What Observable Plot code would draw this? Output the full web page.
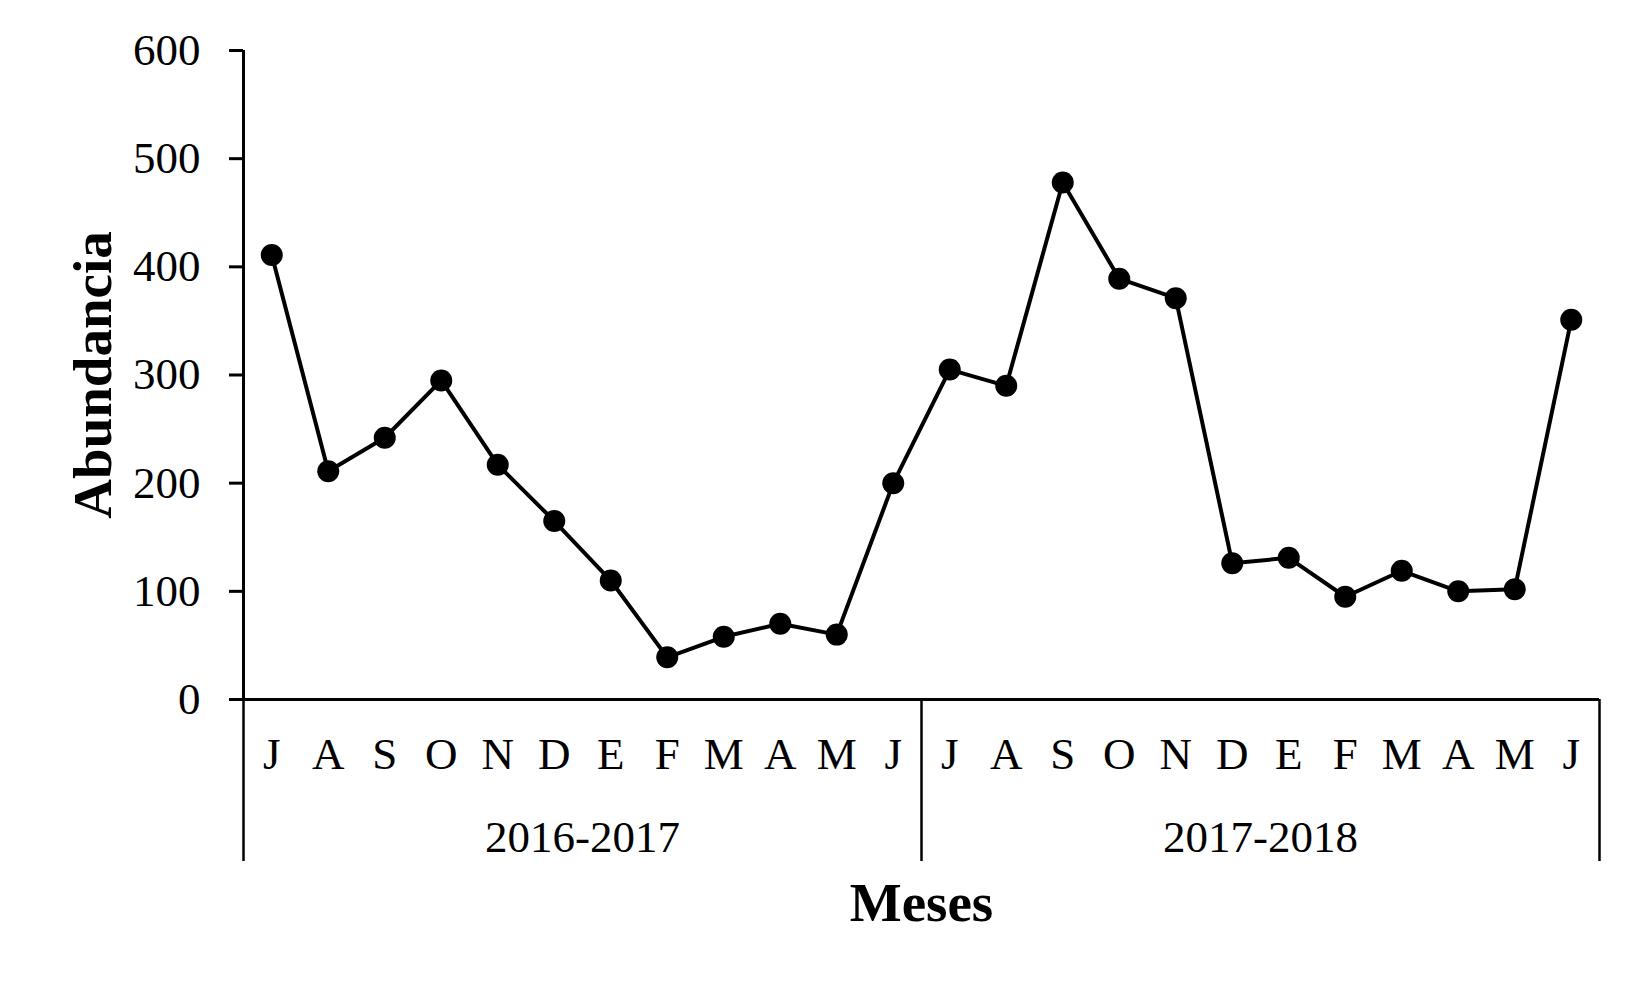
<!DOCTYPE html>
<html><head><meta charset="utf-8">
<script src="https://cdn.jsdelivr.net/npm/d3@7"></script>
<script src="https://cdn.jsdelivr.net/npm/@observablehq/plot@0.6"></script>
<style>html,body{margin:0;padding:0;background:#fff} #chart svg{display:block}</style>
</head><body><div id="chart"></div>
<script>
const months = ["J","A","S","O","N","D","E","F","M","A","M","J","J","A","S","O","N","D","E","F","M","A","M","J"];
const abundance = [411,211,242,295,217,165,110,39,58,70,60,200,305,290,478,389,371,126,131,95,119,100,102,351];
const seasons = ["2016-2017","2017-2018"];
const yTicks = [0,100,200,300,400,500,600];
const yLabel = "Abundancia";
const xLabel = "Meses";

const data = abundance.map((v, i) => ({i, v}));
const perSeason = months.length / seasons.length;
const seasonMid = seasons.map((_, k) => k * perSeason + (perSeason - 1) / 2);
const seasonBounds = d3.range(seasons.length + 1).map(k => k * perSeason - 0.5);

const font = "'Liberation Serif', 'Times New Roman', serif";

const chart = Plot.plot({
  width: 1650, height: 990,
  marginLeft: 243, marginRight: 51, marginTop: 50, marginBottom: 291,
  style: {fontFamily: font, background: "#fff", color: "#000", overflow: "visible"},
  x: {type: "linear", domain: [-0.5, abundance.length - 0.5]},
  y: {domain: [0, 600]},
  marks: [
    Plot.axisY(yTicks, {anchor: "left", tickSize: 14, tickPadding: 29, fontSize: 45, strokeWidth: 3, label: null, tickFormat: d => String(d)}),
    Plot.ruleX([-0.5], {strokeWidth: 3}),
    Plot.ruleY([0], {strokeWidth: 3}),
    Plot.axisX(seasonBounds, {anchor: "bottom", tickSize: 162, tickFormat: () => "", strokeWidth: 2.5, label: null}),
    Plot.axisX(d3.range(months.length), {anchor: "bottom", tickSize: 0, tickPadding: 38, tickFormat: i => months[i], fontSize: 45, label: null}),
    Plot.axisX(seasonMid, {anchor: "bottom", tickSize: 0, tickPadding: 121, tickFormat: d => seasons[seasonMid.indexOf(d)], fontSize: 45, label: null}),
    Plot.line(data, {x: "i", y: "v", stroke: "#000", strokeWidth: 4}),
    Plot.dot(data, {x: "i", y: "v", r: 11, fill: "#000"}),
    Plot.text([yLabel], {frameAnchor: "left", textAnchor: "middle", lineAnchor: "middle", rotate: -90, dx: -150, fontSize: 55, fontWeight: "bold"}),
    Plot.text([xLabel], {frameAnchor: "bottom", textAnchor: "middle", lineAnchor: "middle", dy: 204, fontSize: 55, fontWeight: "bold"})
  ]
});
document.getElementById("chart").appendChild(chart);
</script>
</body></html>
